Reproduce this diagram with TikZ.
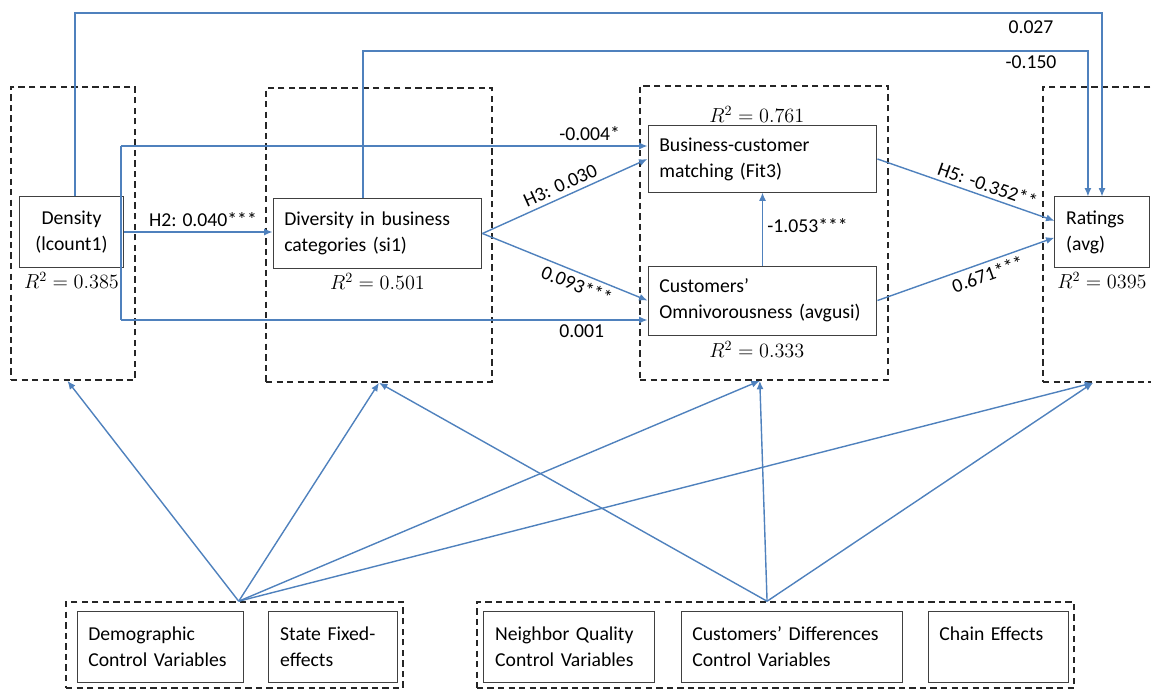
\documentclass[tikz,border=0pt]{standalone}
\usepackage{fontspec}
\setmainfont{Carlito}
\usetikzlibrary{positioning,arrows.meta}

\definecolor{pathblue}{HTML}{4F81BD}
\tikzstyle{block} = [rectangle, draw=black!75, line width=.7pt, align=left, inner xsep=8pt, inner ysep=2pt, font=\fontsize{14}{18.5}\selectfont]
\tikzstyle{panel} = [rectangle, draw=black!85, dashed, dash pattern=on 4.5pt off 3pt, line width=1.1pt, inner sep=0pt]
\tikzstyle{line} = [draw=pathblue, -{Latex[length=6pt,width=5pt]}, line width=1pt]
\tikzstyle{coef} = [font=\fontsize{14}{16}\selectfont, inner sep=3pt]
\tikzstyle{rsq} = [font=\fontsize{14}{16}\selectfont, inner sep=2pt]
\pgfdeclarelayer{background}
\pgfsetlayers{background,main}

\begin{document}
\begin{tikzpicture}[x=0.025cm, y=-0.025cm, node distance=1pt]
    \useasboundingbox (0,0) rectangle (1151,690);

    % Density
    \node [block, align=center, text width=2.06cm, minimum height=1.75cm
            ] (density) at (71.5,232) {Density\\(lcount1)};
    % Diversity
    \node [block, text width=4.66cm, minimum height=1.725cm
            ] (diversity) at (377.5,233.5) {Diversity in business\\categories (si1)};

    % matching and omnivorousness
    \node [block, text width=5.16cm, minimum height=1.65cm
            ] (fit) at (762.5,159) {Business-customer\\matching (Fit3)};
    \node [block, text width=5.16cm, minimum height=1.725cm,
            below=1.825cm of fit] (omni) {Customers’\\Omnivorousness (avgusi)};

    % Ratings
    \node [block, text width=1.79cm, minimum height=1.75cm
            ] (ratings) at (1102,232) {Ratings\\(avg)};

    % R squared
    \node [rsq, below=of density] (rdens) {$R^2 = 0.385$};
    \node [rsq, below=of diversity] (rdiv) {$R^2 = 0.501$};
    \node [rsq, above=0pt of fit, xshift=-4pt] (rfit) {$R^2 = 0.761$};
    \node [rsq, below=2pt of omni, xshift=-4pt] (romni) {$R^2 = 0.333$};
    \node [rsq, below=of ratings] (rrat) {$R^2 = 0395$};

    % control variables
    \node [block, text width=3.61cm, minimum height=1.775cm
            ] (demo) at (160.5,646.5) {Demographic\\Control Variables};
    \node [block, text width=2.66cm, minimum height=1.775cm,
            right=0.6cm of demo] (state) {State Fixed-\\effects};
    \node [block, text width=3.69cm, minimum height=1.775cm
            ] (neighbor) at (569,646.5) {Neighbor Quality\\Control Variables};
    \node [block, text width=4.96cm, minimum height=1.775cm,
            right=0.65cm of neighbor] (custdiff) {Customers’ Differences\\Control Variables};
    \node [block, text width=2.94cm, minimum height=1.775cm,
            right=0.625cm of custdiff] (chain) {Chain Effects\\~};

    % background
    \begin{pgfonlayer}{background}
        \node [panel, minimum width=3.1cm, minimum height=7.325cm] (densgrp) at (73,233.5) {};
        \node [panel, minimum width=5.65cm, minimum height=7.35cm] (divgrp) at (379,235) {};
        \node [panel, minimum width=6.2cm, minimum height=7.35cm] (medgrp) at (764,233) {};
        \node [panel, minimum width=2.925cm, minimum height=7.375cm] (ratgrp) at (1101.5,234.5) {};
        \node [panel, minimum width=8.425cm, minimum height=2.15cm] (demogrp) at (234.5,645) {};
        \node [panel, minimum width=14.925cm, minimum height=2.15cm] (nbrgrp) at (775.5,645) {};
    \end{pgfonlayer}

    % split from density
    \coordinate (dsplit) at (121,146);
    \coordinate (dsplit2) at (121,320);

    % Path
    \path[line] (density.east) -- (density.east -| diversity.west)
        node[coef, pos=0.53, above] {H2: 0.040***};
    \path[line] (diversity.east) -- (fit.west)
        node[coef, midway, above, sloped] {H3: 0.030};
    \path[line] (diversity.east) -- (omni.west)
        node[coef, pos=0.6, below, sloped] {0.093***};
    \draw[pathblue, line width=1pt] (dsplit) -- (dsplit2);
    \path[line] (dsplit) -- (dsplit -| fit.west)
        node[coef, pos=0.89, above] {-0.004*};
    \path[line] (dsplit2) -- (dsplit2 -| omni.west)
        node[coef, pos=0.875, below] {0.001};
    \path[line] (omni.north) -- (fit.south)
        node[coef, pos=0.55, right] {-1.053***};
    \path[line] (fit.east) -- ([yshift=8pt]ratings.west)
        node[coef, pos=0.6, above, sloped] {H5: -0.352**};
    \path[line] (omni.east) -- ([yshift=-4pt]ratings.west)
        node[coef, pos=0.6, below, sloped] {0.671***};
    \path[line] ([xshift=2.5pt]density.north) -- ([xshift=2.5pt]density.north |- 0,13) -| (ratings.north);
    \path[line] ([xshift=-10.3pt]diversity.north) -- ([xshift=-10.3pt]diversity.north |- 0,51) -| ([xshift=-10pt]ratings.north);
    \node [coef] (l027) at (1031,27) {0.027};
    \node [coef] (l150) at (1031,62) {-0.150};

    % controls
    \foreach \dst/\sh in {densgrp/-4pt, divgrp/0pt, medgrp/-3pt, ratgrp/-6pt}
        \path[line] ([xshift=3pt]demogrp.north) -- ([xshift=\sh]\dst.south);
    \foreach \dst/\sh in {divgrp/0pt, medgrp/-3pt, ratgrp/-6pt}
        \path[line] ([xshift=-6pt]nbrgrp.north) -- ([xshift=\sh]\dst.south);

\end{tikzpicture}
\end{document}
